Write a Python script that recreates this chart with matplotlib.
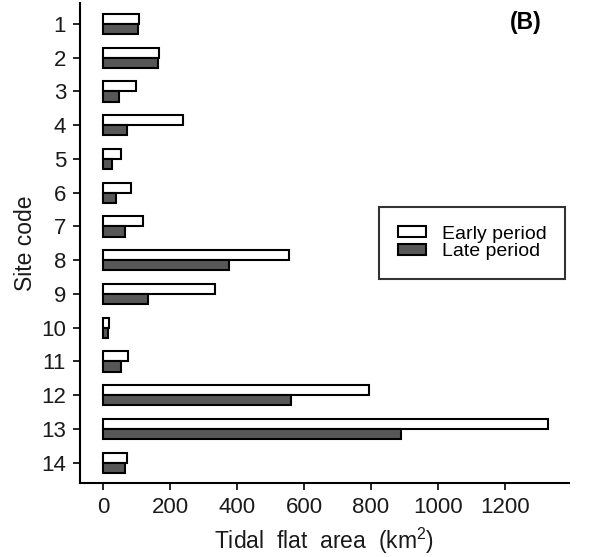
import numpy as np
import matplotlib.pyplot as plt

plt.rcParams['font.family'] = ['Liberation Sans', 'DejaVu Sans']
plt.rcParams['mathtext.fontset'] = 'custom'
plt.rcParams['mathtext.rm'] = 'Liberation Sans'

# 数据：各站点早期/晚期潮滩面积 (km2)
sites = ['1', '2', '3', '4', '5', '6', '7', '8', '9', '10', '11', '12', '13', '14']
early = [108, 168, 98, 238, 53, 83, 118, 556, 334, 17, 73, 795, 1329, 70]
late = [105, 163, 48, 71, 28, 39, 64, 377, 135, 15, 52, 561, 890, 64]
xticks = [0, 200, 400, 600, 800, 1000, 1200]

fig = plt.figure(figsize=(6.0, 5.57), dpi=100)
ax = fig.add_axes([0.1333, 0.1329, 0.815, 0.8617])

y = np.arange(1, len(sites) + 1)
h = 0.3
ax.barh(y - h / 2, early, height=h, color='white', edgecolor='black', linewidth=1.5, label='Early period')
ax.barh(y + h / 2, late, height=h, color='#575757', edgecolor='black', linewidth=1.5, label='Late period')

ax.set_ylim(14.6, 0.38)
ax.set_xlim(-69, 1391)
ax.set_yticks(y)
ax.set_yticklabels(sites)
ax.set_xticks(xticks)

for s in ['top', 'right']:
    ax.spines[s].set_visible(False)
for s in ['left', 'bottom']:
    ax.spines[s].set_linewidth(1.5)
ax.tick_params(axis='both', direction='out', length=5, width=1.2, labelsize=16, pad=5, colors='#1a1a1a')
ax.tick_params(axis='both', color='black')

ax.set_ylabel('Site code', fontsize=16.5, labelpad=3, color='#1a1a1a')
ax.set_xlabel('Tidal  flat  area  (km$^2$)', fontsize=16.5, labelpad=6, color='#1a1a1a')

fig.text(526 / 600, 1 - 11 / 557, '(B)', fontsize=16.5, fontweight='bold', ha='center', va='top')

leg = ax.legend(loc='center', bbox_to_anchor=(472 / 600, 1 - 243 / 557), bbox_transform=fig.transFigure,
                fontsize=14, frameon=True, fancybox=False, edgecolor='black',
                handlelength=1.45, handleheight=0.55, labelspacing=0.05, borderpad=0.95,
                handletextpad=0.8, borderaxespad=0)
leg.get_frame().set_linewidth(1.5)

fig.savefig('out.png', dpi=100)
